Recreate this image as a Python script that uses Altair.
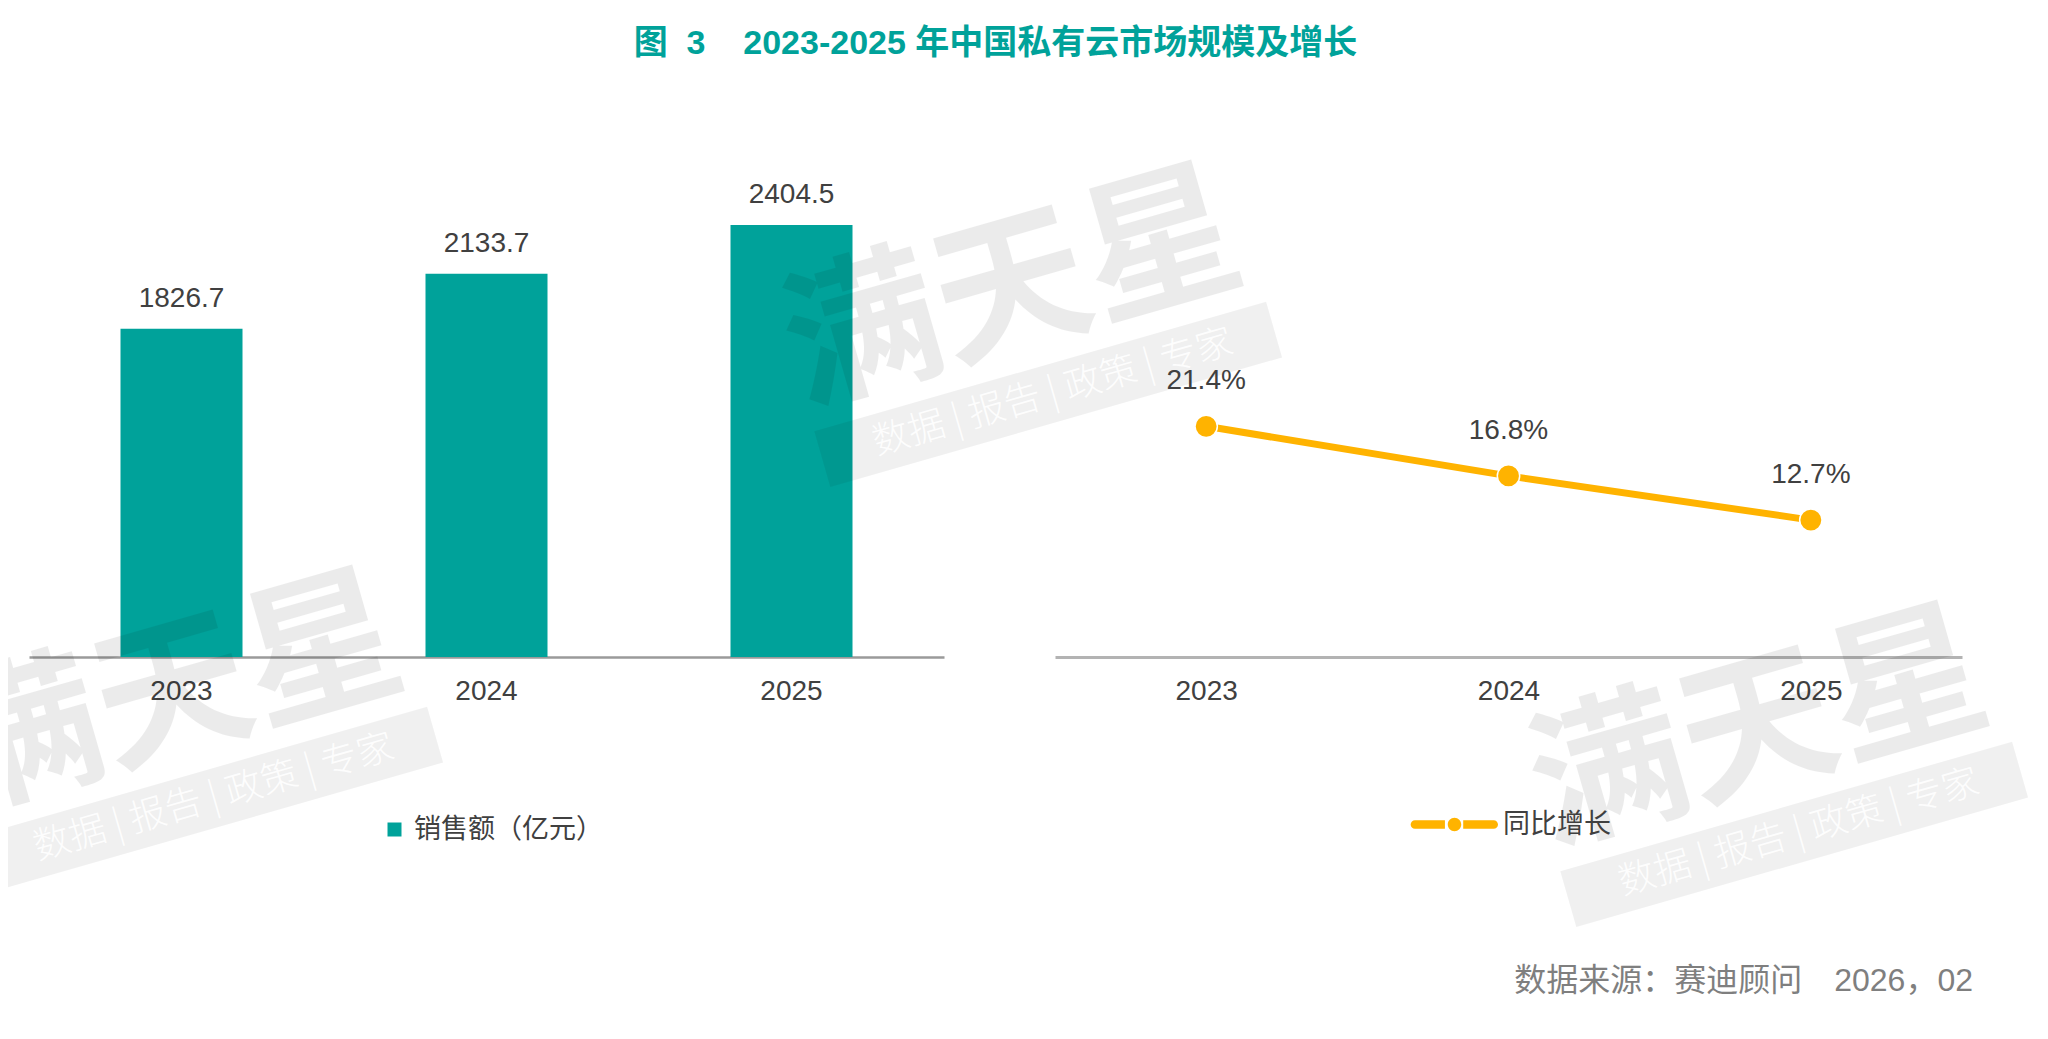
import math
import altair as alt
import pandas as pd

# ---------------- data ----------------
years = ["2023", "2024", "2025"]
sales = [1826.7, 2133.7, 2404.5]          # 销售额（亿元）
growth = [21.4, 16.8, 12.7]               # 同比增长 (%)
sales_name = "销售额（亿元）"
growth_name = "同比增长"
NB = "\u00a0"
title_text = "图" + NB * 2 + "3" + NB * 4 + "2023-2025 年中国私有云市场规模及增长"
source_text = "数据来源：赛迪顾问\u30002026，02"
wm_big = "满天星"
wm_small = "数据 | 报告 | 政策 | 专家"

df_sales = pd.DataFrame({"year": years, "sales": sales, "series": [sales_name] * 3})
df_growth = pd.DataFrame({"year": years, "growth": growth, "series": [growth_name] * 3})
one = pd.DataFrame({"k": [0]})

FONT = "Liberation Sans, Noto Sans CJK SC, sans-serif"
CJK = "Noto Sans CJK SC, sans-serif"
TEAL = "#00A29A"
ORANGE = "#FFB300"
TXT = "#404040"

W, H = 1933, 539

# ---------------- left: bars ----------------
xl = alt.X("year:O", title=None,
           scale=alt.Scale(type="band", range=[0, 915], paddingInner=0.6, paddingOuter=0.3),
           axis=alt.Axis(orient="bottom", labelAngle=0, labelFontSize=28, labelColor=TXT,
                         labelFont=FONT, ticks=False, labelPadding=20,
                         domainColor="#9a9a9a", domainWidth=2.5, grid=False))
yl = alt.Y("sales:Q", scale=alt.Scale(domain=[0, 3000]), axis=None)

bars = alt.Chart(df_sales).mark_bar(size=122).encode(
    x=xl, y=yl,
    color=alt.Color("series:N",
                    scale=alt.Scale(domain=[sales_name], range=[TEAL]),
                    legend=alt.Legend(title=None, orient="none", legendX=352, legendY=698,
                                      symbolType="square", symbolSize=196, symbolStrokeWidth=0,
                                      symbolOpacity=1, labelFontSize=27, labelColor=TXT,
                                      labelFont=FONT, labelOffset=6, padding=0,
                                      labelLimit=600)),
)
bar_labels = alt.Chart(df_sales).mark_text(
    fontSize=28, color=TXT, font=FONT, baseline="alphabetic", dy=-22
).encode(x=alt.X("year:O"), y=alt.Y("sales:Q"), text=alt.Text("sales:Q", format=".1f"))

left = alt.layer(bars, bar_labels)

# ---------------- right: line ----------------
xr = alt.X("year:O", title=None,
           scale=alt.Scale(type="point", padding=0.5, range=[1026, 1933]),
           axis=alt.Axis(orient="bottom", labelAngle=0, labelFontSize=28, labelColor=TXT,
                         labelFont=FONT, ticks=False, labelPadding=20,
                         domainColor="#b3b3b3", domainWidth=3, grid=False))
yr = alt.Y("growth:Q", scale=alt.Scale(domain=[0, 49.6]), axis=None)

leg_path = ("M-0.908,-0.1 L-0.22,-0.1 L-0.22,0.1 L-0.908,0.1 "
            "A0.1,0.1 0 0 1 -0.908,-0.1 Z "
            "M-0.155,0 A0.155,0.155 0 1 0 0.155,0 A0.155,0.155 0 1 0 -0.155,0 Z "
            "M0.2,-0.1 L0.9,-0.1 A0.1,0.1 0 0 1 0.9,0.1 L0.2,0.1 Z")

line = alt.Chart(df_growth).mark_line(strokeWidth=7, color=ORANGE).encode(x=xr, y=yr)
points = alt.Chart(df_growth).mark_point(
    filled=True, size=500, opacity=1, stroke="white", strokeWidth=1.5
).encode(
    x=alt.X("year:O"), y=alt.Y("growth:Q"),
    color=alt.Color("series:N",
                    scale=alt.Scale(domain=[growth_name], range=[ORANGE]),
                    legend=alt.Legend(title=None, orient="none", legendX=1382, legendY=663,
                                      symbolType=leg_path, symbolSize=87 * 87,
                                      symbolStrokeWidth=0, symbolOpacity=1,
                                      labelFontSize=27, labelColor=TXT, labelFont=FONT,
                                      labelOffset=5, padding=0, labelLimit=600)),
)
line_labels = alt.Chart(df_growth).transform_calculate(
    lab="format(datum.growth, '.1f') + '%'"
).mark_text(fontSize=28, color=TXT, font=FONT, baseline="alphabetic", dy=-37).encode(
    x=alt.X("year:O"), y=alt.Y("growth:Q"), text="lab:N")

right = alt.layer(line, points, line_labels)


# ---------------- watermarks ----------------
def watermark(cx, cy):
    a = math.radians(16)
    ux, uy = math.cos(a), -math.sin(a)
    bx, by = cx + 40, cy + 100
    big = alt.Chart(one).mark_text(
        text=wm_big, angle=344, fontSize=155, fontWeight="bold", font=CJK,
        color="black", opacity=0.075, align="center", baseline="middle"
    ).encode(x=alt.value(cx), y=alt.value(cy))
    band = alt.Chart(one).mark_rule(
        strokeWidth=58, color="black", opacity=0.06, strokeCap="butt"
    ).encode(x=alt.value(bx - 240 * ux), y=alt.value(by - 240 * uy),
             x2=alt.value(bx + 230 * ux), y2=alt.value(by + 230 * uy))
    small = alt.Chart(one).mark_text(
        text=wm_small, angle=344, fontSize=37, font=CJK, fontWeight=300,
        color="white", opacity=0.9, align="center", baseline="middle"
    ).encode(x=alt.value(bx), y=alt.value(by))
    return [big, band, small]


wms = watermark(984, 175) + watermark(145, 580) + watermark(1730, 615)

source = alt.Chart(one).mark_text(
    text=source_text, fontSize=32, font=FONT, color="#7f7f7f", align="right", baseline="middle"
).encode(x=alt.value(1944), y=alt.value(863))

chart = alt.layer(left, *wms, right, source).resolve_scale(
    x="independent", y="independent", color="independent"
).resolve_legend(color="independent").properties(
    width=W, height=H,
    title=alt.Title(title_text, fontSize=34, fontWeight="bold", color=TEAL, font=FONT,
                    anchor="middle", offset=57),
    autosize=alt.AutoSizeParams(type="none"),
    padding={"left": 21, "top": 110, "right": 78, "bottom": 360},
).configure(background="white").configure_view(strokeWidth=0)

chart.save("out.html", embed_options={"renderer": "svg", "actions": False})
